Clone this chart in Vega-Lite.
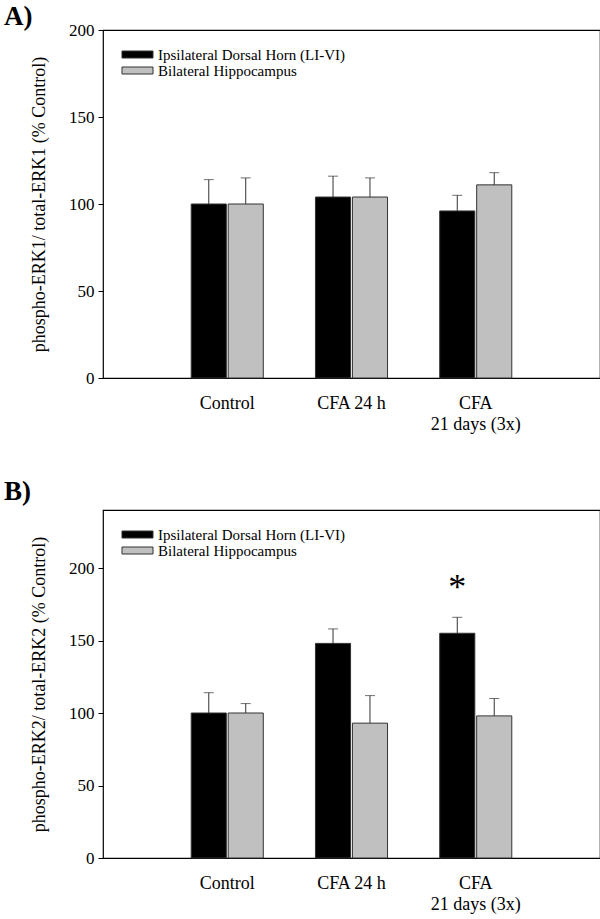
{
  "$schema": "https://vega.github.io/schema/vega-lite/v6.json",
  "padding": {"left": 3, "top": 2, "right": 0, "bottom": 0},
  "background": "white",
  "config": {
    "font": "Liberation Serif",
    "view": {"stroke": "#000", "strokeWidth": 1.2},
    "axis": {"labelFont": "Liberation Serif", "titleFont": "Liberation Serif", "labelColor": "#000", "titleColor": "#000", "labelFontSize": 17, "titleFontSize": 18, "titleFontWeight": "normal", "grid": false, "domain": false, "tickColor": "#000", "tickSize": 5, "labelPadding": 4},
    "legend": {"labelFont": "Liberation Serif", "labelFontSize": 15, "labelColor": "#000", "labelLimit": 400, "orient": "none", "legendX": 27, "legendY": 17, "rowPadding": 0, "symbolType": "M-4.43,-1H4.43V1H-4.43Z", "symbolSize": 49, "symbolStrokeColor": "#333", "symbolStrokeWidth": 1, "labelOffset": 13, "title": null},
    "title": {"font": "Liberation Serif", "fontSize": 27, "fontWeight": "bold", "anchor": "start", "frame": "group", "color": "#000"},
    "concat": {"spacing": 43}
  },
  "datasets": {
    "erk": [
      {"panel": "A", "group": "Control", "series": "Ipsilateral Dorsal Horn (LI-VI)", "value": 100, "upper": 114},
      {"panel": "A", "group": "Control", "series": "Bilateral Hippocampus", "value": 100, "upper": 115},
      {"panel": "A", "group": "CFA 24 h", "series": "Ipsilateral Dorsal Horn (LI-VI)", "value": 104, "upper": 116},
      {"panel": "A", "group": "CFA 24 h", "series": "Bilateral Hippocampus", "value": 104, "upper": 115},
      {"panel": "A", "group": "CFA|21 days (3x)", "series": "Ipsilateral Dorsal Horn (LI-VI)", "value": 96, "upper": 105},
      {"panel": "A", "group": "CFA|21 days (3x)", "series": "Bilateral Hippocampus", "value": 111, "upper": 118},
      {"panel": "B", "group": "Control", "series": "Ipsilateral Dorsal Horn (LI-VI)", "value": 100, "upper": 114},
      {"panel": "B", "group": "Control", "series": "Bilateral Hippocampus", "value": 100, "upper": 106.5},
      {"panel": "B", "group": "CFA 24 h", "series": "Ipsilateral Dorsal Horn (LI-VI)", "value": 148, "upper": 158},
      {"panel": "B", "group": "CFA 24 h", "series": "Bilateral Hippocampus", "value": 93, "upper": 112},
      {"panel": "B", "group": "CFA|21 days (3x)", "series": "Ipsilateral Dorsal Horn (LI-VI)", "value": 155, "upper": 166, "sig": "*"},
      {"panel": "B", "group": "CFA|21 days (3x)", "series": "Bilateral Hippocampus", "value": 98, "upper": 110}
    ]
  },
  "resolve": {"scale": {"color": "independent"}, "legend": {"color": "independent"}},
  "vconcat": [
    {
      "title": {"text": "A)", "dx": -99, "offset": -10},
      "width": 497,
      "height": 348,
      "data": {"name": "erk"},
      "transform": [{"filter": "datum.panel == 'A'"}],
      "encoding": {
        "x": {"field": "group", "type": "nominal", "sort": ["Control", "CFA 24 h", "CFA|21 days (3x)"], "scale": {"paddingInner": 0.42, "paddingOuter": 0.71}, "axis": {"title": null, "labelAngle": 0, "ticks": false, "labelPadding": 16, "labelFontSize": 18, "labelExpr": "split(datum.label, '|')", "labelLineHeight": 21}},
        "xOffset": {"field": "series", "type": "nominal", "sort": ["Ipsilateral Dorsal Horn (LI-VI)", "Bilateral Hippocampus"], "scale": {"paddingInner": 0.05}}
      },
      "layer": [
        {
          "mark": {"type": "bar", "stroke": "#333", "strokeWidth": 1},
          "encoding": {
            "y": {"field": "value", "type": "quantitative", "scale": {"domain": [0, 200]}, "axis": {"values": [0, 50, 100, 150, 200], "title": "phospho-ERK1/ total-ERK1 (% Control)", "titlePadding": 20}},
            "color": {"field": "series", "type": "nominal", "scale": {"domain": ["Ipsilateral Dorsal Horn (LI-VI)", "Bilateral Hippocampus"], "range": ["#000000", "#c0c0c0"]}}
          }
        },
        {"mark": {"type": "rule", "color": "#333", "strokeWidth": 1}, "encoding": {"y": {"field": "value", "type": "quantitative"}, "y2": {"field": "upper"}}},
        {"mark": {"type": "tick", "color": "#333", "size": 10, "thickness": 1}, "encoding": {"y": {"field": "upper", "type": "quantitative"}}}
      ]
    },
    {
      "title": {"text": "B)", "dx": -99, "offset": 4},
      "width": 497,
      "height": 348,
      "data": {"name": "erk"},
      "transform": [{"filter": "datum.panel == 'B'"}],
      "encoding": {
        "x": {"field": "group", "type": "nominal", "sort": ["Control", "CFA 24 h", "CFA|21 days (3x)"], "scale": {"paddingInner": 0.42, "paddingOuter": 0.71}, "axis": {"title": null, "labelAngle": 0, "ticks": false, "labelPadding": 16, "labelFontSize": 18, "labelExpr": "split(datum.label, '|')", "labelLineHeight": 21}},
        "xOffset": {"field": "series", "type": "nominal", "sort": ["Ipsilateral Dorsal Horn (LI-VI)", "Bilateral Hippocampus"], "scale": {"paddingInner": 0.05}}
      },
      "layer": [
        {
          "mark": {"type": "bar", "stroke": "#333", "strokeWidth": 1},
          "encoding": {
            "y": {"field": "value", "type": "quantitative", "scale": {"domain": [0, 240]}, "axis": {"values": [0, 50, 100, 150, 200], "title": "phospho-ERK2/ total-ERK2 (% Control)", "titlePadding": 20}},
            "color": {"field": "series", "type": "nominal", "scale": {"domain": ["Ipsilateral Dorsal Horn (LI-VI)", "Bilateral Hippocampus"], "range": ["#000000", "#c0c0c0"]}}
          }
        },
        {"mark": {"type": "rule", "color": "#333", "strokeWidth": 1}, "encoding": {"y": {"field": "value", "type": "quantitative"}, "y2": {"field": "upper"}}},
        {"mark": {"type": "tick", "color": "#333", "size": 10, "thickness": 1}, "encoding": {"y": {"field": "upper", "type": "quantitative"}}},
        {"transform": [{"filter": "datum.sig"}], "mark": {"type": "text", "fontSize": 36, "baseline": "bottom", "dy": -10, "color": "#000"}, "encoding": {"y": {"field": "upper", "type": "quantitative"}, "text": {"field": "sig"}}}
      ]
    }
  ]
}
